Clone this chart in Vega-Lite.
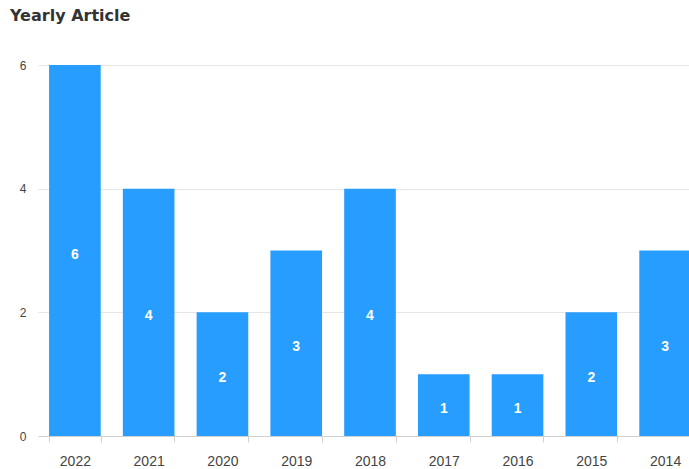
{
  "$schema": "https://vega.github.io/schema/vega-lite/v6.json",
  "autosize": "none",
  "width": 651,
  "height": 371,
  "padding": {"left": 38, "top": 65, "right": 0, "bottom": 33},
  "background": "white",
  "title": {
    "text": "Yearly Article",
    "anchor": "start",
    "frame": "group",
    "dx": -28,
    "font": "DejaVu Sans",
    "fontSize": 16,
    "fontWeight": "bold",
    "color": "#333333",
    "offset": 35
  },
  "config": {"view": {"stroke": null}},
  "data": {
    "values": [
      {"year": "2022", "count": 6},
      {"year": "2021", "count": 4},
      {"year": "2020", "count": 2},
      {"year": "2019", "count": 3},
      {"year": "2018", "count": 4},
      {"year": "2017", "count": 1},
      {"year": "2016", "count": 1},
      {"year": "2015", "count": 2},
      {"year": "2014", "count": 3}
    ]
  },
  "encoding": {
    "x": {
      "field": "year",
      "type": "nominal",
      "sort": null,
      "title": null,
      "scale": {"range": [0, 664], "paddingInner": 0.3, "paddingOuter": 0.15},
      "axis": {
        "labelAngle": 0,
        "labelFont": "Liberation Sans",
        "labelFontSize": 14,
        "labelColor": "#444444",
        "labelPadding": 12,
        "tickSize": 6,
        "tickColor": "#d0d0d0",
        "domainColor": "#d0d0d0",
        "tickBand": "extent",
        "grid": false
      }
    }
  },
  "layer": [
    {
      "mark": {"type": "bar", "color": "#279dff", "clip": true},
      "encoding": {
        "y": {
          "field": "count",
          "type": "quantitative",
          "title": null,
          "scale": {"domain": [0, 6], "nice": false},
          "axis": {
            "values": [0, 2, 4, 6],
            "ticks": false,
            "domain": false,
            "labelFont": "Liberation Sans",
            "labelFontSize": 12,
            "labelColor": "#444444",
            "labelPadding": 12,
            "gridColor": "#e6e6e6"
          }
        }
      }
    },
    {
      "mark": {"type": "text", "color": "white", "fontWeight": "bold", "font": "Liberation Sans", "fontSize": 14, "baseline": "middle", "dy": 4, "clip": true},
      "encoding": {
        "y": {
          "field": "count",
          "type": "quantitative",
          "scale": {"domain": [0, 12], "nice": false},
          "axis": null
        },
        "text": {"field": "count", "type": "quantitative"}
      }
    }
  ],
  "resolve": {"scale": {"y": "independent"}}
}
